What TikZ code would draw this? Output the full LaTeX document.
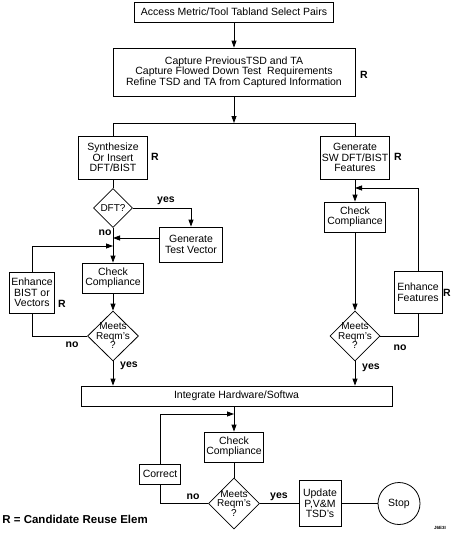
\documentclass[tikz,border=0pt]{standalone}
\usepackage{fontspec}
\setmainfont{Liberation Sans}
\usetikzlibrary{shapes.geometric,arrows.meta}

\begin{document}
\begin{tikzpicture}[x=1pt, y=-1pt, line width=0.8pt,
  box/.style={draw, rectangle, inner sep=0pt, align=center, font=\fontsize{10.5}{10.5}\selectfont},
  dia/.style={draw, diamond, inner sep=0pt, aspect=1},
  dtext/.style={inner sep=0pt, align=center, font=\fontsize{10}{9.5}\selectfont},
  tag/.style={inner sep=0pt, font=\bfseries\fontsize{10.5}{12}\selectfont},
  flow/.style={-{Triangle[length=7pt,width=5pt]}}]
\useasboundingbox (0,0) rectangle (453,536);

% Top of the flow
\node[box, minimum width=199pt, minimum height=20pt] (access) at (234,12) {Access Metric/Tool Tabland Select Pairs};
\node[box, minimum width=242pt, minimum height=48pt] (capture) at (234,72) {Capture PreviousTSD and TA\\ Capture Flowed Down Test\ \ Requirements\\ Refine TSD and TA from Captured Information};
\node[tag] (rcap) at (364,75) {R};
\coordinate (split) at (234,123);
\coordinate (splitL) at (113,123);
\coordinate (splitR) at (355,123);

% Left branch
\node[box, minimum width=69pt, minimum height=43pt] (synth) at (113,157.5) {Synthesize\\Or Insert\\DFT/BIST};
\node[tag] (rsynth) at (155,157) {R};
\node[dia, minimum width=39pt, minimum height=39pt, label={[dtext]center:DFT?}] (dft) at (113,208) {};
\node[box, minimum width=63pt, minimum height=35pt] (gentv) at (191,244.5) {Generate\\Test Vector};
\coordinate (jtv) at (113,238);
\coordinate (jloop) at (113,246);
\node[box, minimum width=61pt, minimum height=30pt] (chk1) at (113,278) {Check\\Compliance};
\node[box, minimum width=45pt, minimum height=41pt] (enh1) at (32,292.5) {Enhance\\BIST or\\Vectors};
\node[tag] (renh1) at (62,304) {R};
\node[dia, minimum width=51pt, minimum height=50pt, label={[dtext]center:{Meets\\Reqm's\\?}}] (meet1) at (113,336) {};

% Right branch
\node[box, minimum width=69pt, minimum height=43pt] (genf) at (355,157.5) {Generate\\SW DFT/BIST\\Features};
\node[tag] (rgenf) at (398,157) {R};
\coordinate (jfeat) at (355,188);
\node[box, minimum width=61pt, minimum height=30pt] (chk2) at (355,217) {Check\\Compliance};
\node[box, minimum width=48pt, minimum height=42pt] (enh2) at (418,292) {Enhance\\Features};
\node[tag] (renh2) at (447,293) {R};
\node[dia, minimum width=50pt, minimum height=50pt, label={[dtext]center:{Meets\\Reqm's\\?}}] (meet2) at (355,336) {};

% Bottom part
\node[box, minimum width=311pt, minimum height=20pt] (integ) at (236.5,396) {Integrate Hardware/Softwa};
\coordinate (jcor) at (234,414);
\node[box, minimum width=59pt, minimum height=30pt] (chk3) at (234,447) {Check\\Compliance};
\node[box, minimum width=41pt, minimum height=20pt] (correct) at (160,474) {Correct};
\node[dia, minimum width=51pt, minimum height=51pt, label={[dtext]center:{Meets\\Reqm's\\?}}] (meet3) at (234,503.5) {};
\node[box, minimum width=42pt, minimum height=46pt] (update) at (320,503.5) {Update\\P,V\&M\\TSD's};
\node[box, circle, minimum size=42pt] (stop) at (399,503.5) {Stop};
\node[tag, anchor=west, font=\bfseries\fontsize{11.5}{12}\selectfont] (legend) at (2,519) {R = Candidate Reuse Elem};
\node[tag, font=\bfseries\fontsize{4.5}{4.5}\selectfont] (code) at (440,528) {J6E3I};

% yes / no
\node[tag] (yes1) at (166,201) {yes};
\node[tag] (no1) at (105,233) {no};
\node[tag] (no2) at (72,345) {no};
\node[tag] (yes2) at (129,366) {yes};
\node[tag] (no3) at (400,348) {no};
\node[tag] (yes3) at (371,368) {yes};
\node[tag] (no4) at (193,497) {no};
\node[tag] (yes4) at (279,497) {yes};

% Connectors
\draw[flow] (access) -- (capture);
\draw[flow] (capture) -- (split);
\draw (splitL) -- (splitR);
\draw (splitL) -- (synth);
\draw (splitR) -- (genf);
\draw (synth) -- (dft);
\draw[flow] (dft.east) -| (gentv);
\draw[flow] (gentv.west |- jtv) -- (jtv);
\draw[flow] (dft) -- (chk1);
\draw[flow] (enh1.north) |- (jloop);
\draw[flow] (chk1) -- (meet1);
\draw (meet1.west) -| (enh1.south);
\draw[flow] (meet1) -- (meet1 |- integ.north);
\draw[flow] (genf) -- (chk2);
\draw[flow] (enh2.north) |- (jfeat);
\draw[flow] (chk2) -- (meet2);
\draw (meet2.east) -| (enh2.south);
\draw[flow] (meet2) -- (meet2 |- integ.north);
\draw[flow] (integ.south -| chk3.north) -- (chk3);
\draw[flow] (correct.north) |- (jcor);
\draw (chk3) -- (meet3);
\draw (meet3.west) -| (correct.south);
\draw (meet3) -- (update);
\draw (update) -- (stop);
\end{tikzpicture}
\end{document}
